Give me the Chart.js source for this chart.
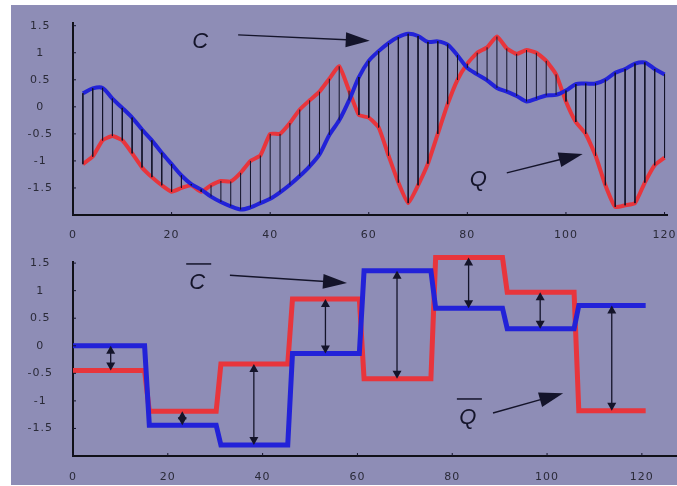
<!DOCTYPE html>
<html><head><meta charset="utf-8">
<script src="https://cdn.jsdelivr.net/npm/chart.js@4/dist/chart.umd.min.js"></script>
<style>
html,body{margin:0;padding:0;background:#fff;overflow:hidden;}
#wrap{position:absolute;left:11px;top:5px;width:666px;height:480px;background:#8e8db6;}
#c1{position:absolute;left:0;top:0;}
#c2{position:absolute;left:0;top:238px;}
</style></head><body>
<div id="wrap"><canvas id="c1" width="666" height="238"></canvas><canvas id="c2" width="666" height="242"></canvas></div>
<script>
// ---- data ----
const xSamples = [2,4,6,8,10,12,14,16,18,20,22,24,26,28,30,32,34,36,38,40,42,44,46,48,50,52,54,56,58,60,
                  62,64,66,68,70,72,74,76,78,80,82,84,86,88,90,92,94,96,98,100,102,104,106,108,110,112,114,116,118,120];
const seriesC = [0.25,0.34,0.35,0.15,-0.02,-0.2,-0.42,-0.62,-0.85,-1.06,-1.27,-1.43,-1.53,-1.66,-1.76,-1.84,-1.9,-1.86,-1.78,-1.7,
                 -1.58,-1.44,-1.28,-1.1,-0.88,-0.52,-0.25,0.12,0.55,0.85,1.03,1.18,1.29,1.35,1.31,1.2,1.21,1.15,0.95,0.72,
                 0.6,0.49,0.35,0.28,0.2,0.1,0.15,0.21,0.22,0.3,0.42,0.43,0.43,0.5,0.63,0.7,0.8,0.82,0.7,0.6];
const seriesQ = [-1.06,-0.92,-0.62,-0.54,-0.62,-0.86,-1.12,-1.3,-1.45,-1.57,-1.5,-1.45,-1.57,-1.45,-1.37,-1.38,-1.22,-1.0,-0.9,-0.5,
                 -0.5,-0.3,-0.05,0.12,0.28,0.52,0.75,0.3,-0.15,-0.2,-0.38,-0.9,-1.4,-1.78,-1.45,-1.05,-0.5,0.05,0.5,0.8,
                 1.0,1.1,1.3,1.08,0.98,1.05,1.0,0.85,0.6,0.1,-0.28,-0.5,-0.9,-1.45,-1.85,-1.82,-1.78,-1.4,-1.08,-0.94];
const segStarts = [0,15.1,30.2,45.3,60.4,75.5,90.6,105.7];
const segEnd = 120.8;
const meanC = [0,-1.44,-1.8,-0.14,1.36,0.68,0.31,0.73];
const meanQ = [-0.45,-1.19,-0.33,0.85,-0.6,1.6,0.97,-1.18];
const xTickValues = [0,20,40,60,80,100,120];
const yTickValues = [-1.5,-1,-0.5,0,0.5,1,1.5];
const labelsTop = [{text:'C', bar:false, at:[25.8,1.2], from:[33.5,1.33], to:[60.2,1.22]},
                   {text:'Q', bar:false, at:[82.2,-1.35], from:[88,-1.22], to:[103.4,-0.87]}];
const labelsBottom = [{text:'C', bar:true, at:[26.2,1.14], from:[33.1,1.28], to:[57.8,1.14]},
                      {text:'Q', bar:true, at:[83.3,-1.31], from:[88.6,-1.22], to:[103.4,-0.86]}];

// ---- styles ----
const BLUE = '#2222d8', RED = '#e8353c', INK = '#14142a';
const tickFont = {family:'"DejaVu Sans", Verdana, sans-serif', size:11};

function head(ctx, x0, y0, x1, y1, len, half){
  const a = Math.atan2(y1-y0, x1-x0), c = Math.cos(a), s = Math.sin(a);
  ctx.beginPath();
  ctx.moveTo(x1, y1);
  ctx.lineTo(x1 - len*c + half*s, y1 - len*s - half*c);
  ctx.lineTo(x1 - len*c - half*s, y1 - len*s + half*c);
  ctx.closePath(); ctx.fill();
}

const annot = {
  id:'annot',
  beforeDraw(chart){ chart.ctx.letterSpacing = '1px'; },
  afterDatasetsDraw(chart, args, opts){
    const {ctx, scales:{x, y}} = chart;
    ctx.save();
    ctx.letterSpacing = '0px';
    ctx.fillStyle = INK; ctx.strokeStyle = INK;
    if (opts.doubleArrows){
      segStarts.forEach((s, i) => {
        const e = i < segStarts.length-1 ? segStarts[i+1] : segEnd;
        const px = x.getPixelForValue((s+e)/2 + 0.4);
        const pa = y.getPixelForValue(meanC[i]), pb = y.getPixelForValue(meanQ[i]);
        head(ctx, px, pb, px, pa, 8, 4.5);
        head(ctx, px, pa, px, pb, 8, 4.5);
      });
    }
    (opts.labels||[]).forEach(l => {
      const tx = x.getPixelForValue(l.at[0]), ty = y.getPixelForValue(l.at[1]);
      ctx.font = 'italic 22px "Liberation Sans", Arial, sans-serif';
      ctx.textAlign = 'center'; ctx.textBaseline = 'middle';
      ctx.fillText(l.text, tx, ty);
      if (l.bar){
        ctx.lineWidth = 1.5;
        ctx.beginPath(); ctx.moveTo(tx-11, ty-19); ctx.lineTo(tx+14, ty-19); ctx.stroke();
      }
      const x0 = x.getPixelForValue(l.from[0]), y0 = y.getPixelForValue(l.from[1]);
      const x1 = x.getPixelForValue(l.to[0]), y1 = y.getPixelForValue(l.to[1]);
      const a = Math.atan2(y1-y0, x1-x0);
      ctx.lineWidth = 1.4;
      ctx.beginPath(); ctx.moveTo(x0, y0); ctx.lineTo(x1 - 18*Math.cos(a), y1 - 18*Math.sin(a)); ctx.stroke();
      head(ctx, x0, y0, x1, y1, 24, 7.5);
    });
    ctx.lineWidth = 1;
    xTickValues.forEach(v => { const p = x.getPixelForValue(v); ctx.beginPath(); ctx.moveTo(p, chart.chartArea.bottom); ctx.lineTo(p, chart.chartArea.bottom-3); ctx.stroke(); });
    yTickValues.forEach(v => { const p = y.getPixelForValue(v); ctx.beginPath(); ctx.moveTo(chart.chartArea.left, p); ctx.lineTo(chart.chartArea.left+3, p); ctx.stroke(); });
    ctx.restore();
  }
};

function zeroPad(s){ s.paddingTop = 0; s.paddingBottom = 0; s.paddingLeft = 0; s.paddingRight = 0; }
function axes(xMax, yMax, xH, pad){
  return {
    x:{type:'linear', min:0, max:xMax, grid:{display:false}, border:{color:'#101018', width:2},
       afterBuildTicks:s=>{s.ticks = xTickValues.map(v=>({value:v}));},
       afterFit:s=>{s.height = xH; zeroPad(s);},
       ticks:{font:tickFont, color:'#2a2a38', padding:pad, maxRotation:0, autoSkip:false, callback:v=>String(v)}},
    y:{type:'linear', min:-2, max:yMax, grid:{display:false, drawTicks:false}, border:{color:'#101018', width:2},
       afterBuildTicks:s=>{s.ticks = yTickValues.map(v=>({value:v}));},
       afterFit:s=>{s.width = 62; zeroPad(s);},
       ticks:{font:tickFont, color:'#2a2a38', padding:22, crossAlign:'center', autoSkip:false, callback:v=>String(v)}}
  };
}

// ---- top chart ----
const verticals = [];
xSamples.forEach((xv, i) => { verticals.push({x:xv, y:seriesC[i]}, {x:xv, y:seriesQ[i]}, {x:xv, y:null}); });

new Chart(document.getElementById('c1'), {
  type:'line',
  data:{datasets:[
    {data:verticals, borderColor:INK, borderWidth:1, pointRadius:0, spanGaps:false, tension:0, clip:false},
    {data:xSamples.map((xv,i)=>({x:xv, y:seriesC[i]})), borderColor:BLUE, borderWidth:4, pointRadius:0, tension:0.3, clip:false},
    {data:xSamples.map((xv,i)=>({x:xv, y:seriesQ[i]})), borderColor:RED, borderWidth:4, pointRadius:0, tension:0.15, clip:false}
  ]},
  options:{responsive:false, animation:false, events:[],
    layout:{padding:{top:18, right:10, left:0, bottom:0}},
    plugins:{legend:{display:false}, tooltip:{enabled:false}, annot:{labels:labelsTop}},
    scales:axes(120.5, 1.55, 28, 6)},
  plugins:[annot]
});

// ---- bottom chart ----
function steps(vals){
  const pts = [];
  segStarts.forEach((s, i) => {
    const e = i < segStarts.length-1 ? segStarts[i+1] : segEnd;
    pts.push({x: i ? s + 1 : s, y: vals[i]}, {x: e, y: vals[i]});
  });
  return pts;
}
const shafts = [];
segStarts.forEach((s, i) => {
  const e = i < segStarts.length-1 ? segStarts[i+1] : segEnd;
  const m = (s+e)/2 + 0.4;
  shafts.push({x:m, y:meanC[i]}, {x:m, y:meanQ[i]}, {x:m, y:null});
});

new Chart(document.getElementById('c2'), {
  type:'line',
  data:{datasets:[
    {data:steps(meanC), borderColor:BLUE, borderWidth:5, pointRadius:0, tension:0, clip:false},
    {data:steps(meanQ), borderColor:RED, borderWidth:5, pointRadius:0, tension:0, clip:false},
    {data:shafts, borderColor:INK, borderWidth:1.3, pointRadius:0, spanGaps:false, clip:false}
  ]},
  options:{responsive:false, animation:false, events:[],
    layout:{padding:{top:19, right:1, left:0, bottom:0}},
    plugins:{legend:{display:false}, tooltip:{enabled:false}, annot:{labels:labelsBottom, doubleArrows:true}},
    scales:axes(127.2, 1.52, 29, 7)},
  plugins:[annot]
});
</script>
</body></html>
